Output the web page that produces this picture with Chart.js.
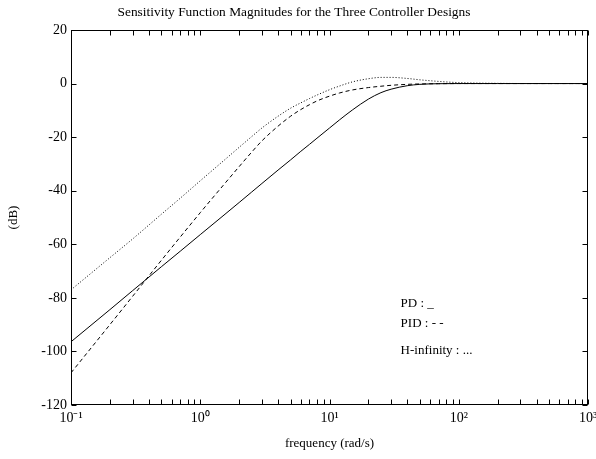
<!DOCTYPE html>
<html>
<head>
<meta charset="utf-8">
<script src="https://cdn.jsdelivr.net/npm/chart.js@4.4.0/dist/chart.umd.min.js"></script>
<style>
  html, body { margin: 0; padding: 0; background: #fff; }
</style>
</head>
<body>
<canvas id="my-chart" width="596" height="459"></canvas>
<script>
//  Data

const freq = [0.1, 0.2, 0.3, 0.5, 0.7, 1, 1.5, 2, 2.5, 3, 4, 5, 6, 7, 8, 10, 12, 15, 20, 25, 30, 40, 50, 70, 100, 200, 500, 1000]
const pdDb = [-96.4, -84.4, -77.3, -68.4, -62.6, -56.4, -49.4, -44.4, -40.5, -37.3, -32.3, -28.5, -25.3, -22.7, -20.4, -16.6, -13.5, -9.9, -5.8, -3.4, -2.1, -0.8, -0.3, -0.05, 0, 0, 0, 0]
const pidDb = [-108, -90, -79.4, -66, -57.3, -48.2, -38.1, -31.0, -25.6, -21.4, -15.9, -12.2, -9.7, -7.9, -6.5, -4.7, -3.5, -2.4, -1.5, -1.0, -0.65, -0.3, -0.15, -0.05, 0, 0, 0, 0]
const hinfDb = [-77, -65, -58, -48.8, -42.8, -36.3, -29, -23.8, -19.8, -16.6, -12.2, -9.2, -7.2, -5.6, -4.3, -2.3, -0.9, 0.6, 1.8, 2.3, 2.3, 1.9, 1.4, 0.8, 0.35, 0.08, 0, 0]

const xMajor = [0.1, 1, 10, 100, 1000]
const xMajorLabels = ['10\u207B\u00B9', '10\u2070', '10\u00B9', '10\u00B2', '10\u00B3']
const xMinorMult = [1, 2, 3, 4, 5, 6, 7, 8, 9]
const yTicks = [-120, -100, -80, -60, -40, -20, 0, 20]

const noteLabels = ['PD : _', 'PID : - -', 'H-infinity : ...']
const noteFreq = 35.5
const noteDb = [-82, -89.5, -99.7]

const serif = '"Liberation Serif", "Times New Roman", serif'

// every 1..9 x decade, last one is 1000
const xTicks = []
xMajor.slice(0, -1).forEach(d => xMinorMult.forEach(m => xTicks.push(m * d)))
xTicks.push(1000)

const toPoints = (ys) => freq.map((f, i) => ({ x: f, y: ys[i] }))

//  Inward ticks, frame and the text notes

const framePlugin = {
    id: 'frame',
    afterDatasetsDraw(chart) {
        const { ctx, chartArea: a, scales } = chart
        const L = Math.round(a.left) + 0.5, R = Math.round(a.right) - 0.5
        const T = Math.round(a.top) + 0.5, B = Math.round(a.bottom) - 0.5
        ctx.save()
        ctx.strokeStyle = '#000'
        ctx.lineWidth = 1
        ctx.beginPath()
        xTicks.forEach(v => {
            const px = Math.round(scales.x.getPixelForValue(v)) + 0.5
            ctx.moveTo(px, B); ctx.lineTo(px, B - 5)
            ctx.moveTo(px, T); ctx.lineTo(px, T + 5)
        })
        yTicks.forEach(v => {
            const py = Math.round(scales.y.getPixelForValue(v)) + 0.5
            ctx.moveTo(L, py); ctx.lineTo(L + 5, py)
            ctx.moveTo(R, py); ctx.lineTo(R - 5, py)
        })
        ctx.stroke()
        ctx.strokeRect(L, T, R - L, B - T)

        ctx.fillStyle = '#000'
        ctx.font = '13px ' + serif
        ctx.textAlign = 'left'
        ctx.textBaseline = 'middle'
        noteLabels.forEach((t, i) => {
            ctx.fillText(t, scales.x.getPixelForValue(noteFreq), scales.y.getPixelForValue(noteDb[i]))
        })
        ctx.restore()
    }
}

const ctx = document.querySelector('#my-chart').getContext('2d')

const lineStyle = { borderColor: '#000', borderWidth: 1, pointRadius: 0, fill: false, cubicInterpolationMode: 'monotone' }

const config = {
    type: 'line',
    data: {
        datasets: [
            { label: 'PD', data: toPoints(pdDb), ...lineStyle },
            { label: 'PID', data: toPoints(pidDb), ...lineStyle, borderDash: [4, 3] },
            { label: 'H-infinity', data: toPoints(hinfDb), ...lineStyle, borderDash: [1, 2] }
        ]
    },
    options: {
        responsive: false,
        animation: false,
        devicePixelRatio: 1,
        layout: { padding: { left: 0, right: 8, top: 0, bottom: 0 } },
        plugins: {
            legend: { display: false },
            tooltip: { enabled: false },
            title: {
                display: true,
                text: 'Sensitivity Function Magnitudes for the Three Controller Designs',
                color: '#000',
                font: { family: serif, size: 13.4, weight: 'normal', lineHeight: 1.2 },
                padding: { top: 4, bottom: 9.9 }
            }
        },
        scales: {
            x: {
                type: 'logarithmic',
                min: 0.1,
                max: 1000,
                grid: { display: false, drawTicks: false },
                border: { display: false },
                afterBuildTicks: (s) => { s.ticks = xTicks.map(v => ({ value: v })) },
                ticks: {
                    autoSkip: false,
                    maxRotation: 0,
                    padding: 5,
                    color: '#000',
                    font: { family: serif, size: 14 },
                    callback: (v) => {
                        const i = xMajor.findIndex(m => Math.abs(m - v) < 1e-9)
                        return i >= 0 ? xMajorLabels[i] : ''
                    }
                },
                title: {
                    display: true,
                    text: 'frequency (rad/s)',
                    color: '#000',
                    font: { family: serif, size: 13 },
                    padding: { top: 0, bottom: 8 }
                },
                afterFit: (s) => { s.height = 54; s.paddingLeft = 0; s.paddingRight = 0 }
            },
            y: {
                min: -120,
                max: 20,
                grid: { display: false, drawTicks: false },
                border: { display: false },
                afterBuildTicks: (s) => { s.ticks = yTicks.map(v => ({ value: v })) },
                ticks: {
                    padding: 4,
                    color: '#000',
                    font: { family: serif, size: 14 }
                },
                title: {
                    display: true,
                    text: '(dB)',
                    color: '#000',
                    font: { family: serif, size: 13 },
                    padding: { top: 6, bottom: 0 }
                },
                afterFit: (s) => { s.width = 71; s.paddingTop = 0; s.paddingBottom = 0 }
            }
        }
    },
    plugins: [framePlugin]
}

const myChart = new Chart(ctx, config)
</script>
</body>
</html>
